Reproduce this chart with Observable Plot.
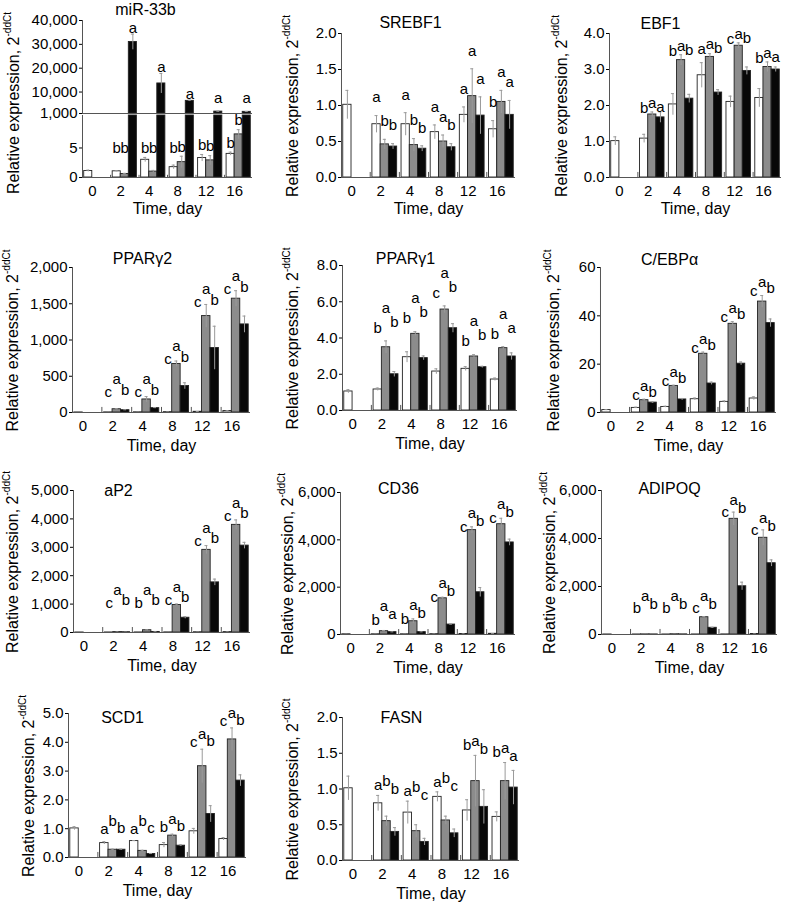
<!DOCTYPE html>
<html><head><meta charset="utf-8">
<script src="https://cdn.jsdelivr.net/npm/d3@7"></script>
<script src="https://cdn.jsdelivr.net/npm/@observablehq/plot@0.6"></script>
<style>
html,body{margin:0;padding:0;background:#fff;}
#page{position:relative;width:787px;height:902px;overflow:hidden;background:#fff;}
#page svg{position:absolute;overflow:visible;}
</style></head><body><div id="page"></div>
<script>
// ---------- data ----------
const days = [0, 2, 4, 8, 12, 16];
const groups = ["w", "g", "b"]; // white, gray, black bars

const mirMean = [[1.1, 1.05, 3.0, 1.75, 3.3, 4.0], [null, 0.6, 1.0, 2.6, 2.9, 7.3], [null, 31000, 13600, 6300, 1800, 1700]];
const mirSe = [[0.15, 0.1, 0.4, 0.35, 0.6, 0.3], [null, 0.1, 0.2, 1.0, 0.8, 0.8], [null, 3300, 4200, 300, 150, 150]];
const mirLetters = [["", "b", "b", "b", "b", "b"], ["", "b", "b", "b", "b", "b"], ["", "a", "a", "a", "a", "a"]];

const srebf1Mean = [[1.01, 0.74, 0.74, 0.63, 0.87, 0.67], [null, 0.46, 0.45, 0.50, 1.13, 1.05], [null, 0.43, 0.40, 0.42, 0.86, 0.87]];
const srebf1Se = [[0.2, 0.12, 0.16, 0.1, 0.11, 0.12], [null, 0.07, 0.09, 0.09, 0.38, 0.16], [null, 0.04, 0.04, 0.05, 0.26, 0.2]];
const srebf1Letters = [["", "a", "a", "a", "a", "b"], ["", "b", "b", "a", "a", "a"], ["", "b", "b", "b", "a", "a"]];

const ebf1Mean = [[1.01, 1.08, 2.03, 2.84, 2.10, 2.21], [null, 1.75, 3.26, 3.35, 3.66, 3.07], [null, 1.67, 2.19, 2.36, 2.96, 3.0]];
const ebf1Se = [[0.12, 0.12, 0.3, 0.35, 0.16, 0.26], [null, 0.07, 0.15, 0.09, 0.08, 0.14], [null, 0.15, 0.12, 0.08, 0.11, 0.07]];
const ebf1Letters = [["", "b", "b", "a", "c", "b"], ["", "a", "a", "a", "a", "a"], ["", "a", "b", "b", "b", "a"]];

const pparg2Mean = [[1, 2, 3, 5, 10, 20], [null, 45, 180, 670, 1330, 1570], [null, 32, 60, 365, 890, 1215]];
const pparg2Se = [[0.5, 1, 1, 2, 3, 5], [null, 8, 40, 40, 160, 110], [null, 5, 8, 45, 300, 115]];
const pparg2Letters = [["", "c", "c", "c", "c", "c"], ["", "a", "a", "a", "a", "a"], ["", "b", "b", "b", "b", "b"]];

const pparg1Mean = [[1.05, 1.16, 2.94, 2.15, 2.3, 1.71], [null, 3.49, 4.23, 5.57, 2.98, 3.44], [null, 2.0, 2.89, 4.54, 2.39, 2.98]];
const pparg1Se = [[0.1, 0.08, 0.3, 0.15, 0.12, 0.08], [null, 0.35, 0.12, 0.2, 0.1, 0.08], [null, 0.15, 0.12, 0.25, 0.05, 0.2]];
const pparg1Letters = [["", "b", "b", "c", "b", "b"], ["", "a", "a", "a", "a", "a"], ["", "b", "b", "b", "b", "a"]];

const cebpaMean = [[1.0, 1.9, 2.3, 5.5, 4.4, 5.8], [null, 5.1, 11.0, 24.3, 36.7, 45.9], [null, 4.1, 5.4, 12.0, 20.2, 37.0]];
const cebpaSe = [[0.2, 0.3, 0.3, 0.5, 0.4, 0.7], [null, 0.4, 0.3, 0.7, 0.9, 2.5], [null, 0.3, 0.4, 0.6, 0.7, 1.7]];
const cebpaLetters = [["", "c", "c", "c", "c", "c"], ["", "a", "a", "a", "a", "a"], ["", "b", "b", "b", "b", "b"]];

const ap2Mean = [[1, 2, 3, 5, 10, 15], [null, 15, 80, 970, 2910, 3790], [null, 10, 20, 520, 1765, 3060]];
const ap2Se = [[0.5, 1, 1, 2, 3, 4], [null, 3, 15, 35, 150, 175], [null, 2, 5, 40, 115, 115]];
const ap2Letters = [["", "c", "b", "c", "c", "c"], ["", "a", "a", "a", "a", "a"], ["", "b", "b", "b", "b", "b"]];

const cd36Mean = [[10, 10, 10, 15, 20, 30], [null, 140, 560, 1530, 4410, 4660], [null, 100, 100, 420, 1785, 3890]];
const cd36Se = [[2, 2, 2, 3, 4, 5], [null, 30, 100, 45, 140, 250], [null, 10, 10, 20, 200, 140]];
const cd36Letters = [["", "b", "b", "c", "c", "c"], ["", "a", "a", "a", "a", "a"], ["", "a", "b", "b", "b", "b"]];

const adipoqMean = [[2, 2, 2, 3, 5, 20], [null, 5, 10, 720, 4820, 4030], [null, 3, 5, 280, 2010, 2970]];
const adipoqSe = [[1, 1, 1, 1, 2, 4], [null, 1, 2, 30, 280, 330], [null, 1, 1, 20, 170, 140]];
const adipoqLetters = [["", "b", "b", "c", "c", "c"], ["", "a", "a", "a", "a", "a"], ["", "b", "b", "b", "b", "b"]];

const scd1Mean = [[1.01, 0.5, 0.57, 0.43, 0.91, 0.64], [null, 0.27, 0.23, 0.76, 3.17, 4.10], [null, 0.27, 0.12, 0.41, 1.51, 2.67]];
const scd1Se = [[0.06, 0.05, 0.02, 0.09, 0.1, 0.05], [null, 0.02, 0.02, 0.05, 0.59, 0.4], [null, 0.02, 0.02, 0.03, 0.29, 0.2]];
const scd1Letters = [["", "a", "a", "b", "c", "c"], ["", "b", "b", "a", "a", "a"], ["", "b", "c", "b", "b", "b"]];

const fasnMean = [[1.01, 0.80, 0.67, 0.89, 0.70, 0.61], [null, 0.55, 0.41, 0.56, 1.11, 1.11], [null, 0.40, 0.26, 0.38, 0.75, 1.02]];
const fasnSe = [[0.17, 0.11, 0.16, 0.07, 0.15, 0.07], [null, 0.07, 0.09, 0.06, 0.36, 0.26], [null, 0.06, 0.05, 0.06, 0.24, 0.24]];
const fasnLetters = [["", "a", "a", "a", "b", "b"], ["", "b", "b", "b", "a", "a"], ["", "b", "c", "c", "b", "a"]];

// ---------- styling / layout ----------
const FILL = {w: "#ffffff", g: "#8c8c8c", b: "#080808"};
const FONT = '"Liberation Sans", Arial, Helvetica, sans-serif';
const colLeft = [0, 262, 524], colW = [262, 262, 263];
const page = document.getElementById("page");

function buildRows(mean, se, letters) {
  const rows = [];
  groups.forEach((g, j) => days.forEach((d, i) => {
    const v = mean[j][i];
    if (v == null) return;
    rows.push({day: d, g, v, se: se[j][i] || 0, lt: letters[j][i] || ""});
  }));
  return rows;
}

function drawPanel(rows, L, o) {
  const mL = L.axisX - L.svgLeft, mR = L.svgLeft + L.svgW - L.right;
  const mT = L.top - L.svgTop, mB = L.svgTop + L.svgH - L.zero;
  const FW = L.right - L.axisX;
  const pi = 0.15, po = 0.06;
  const step = FW / (days.length - pi + 2 * po);
  const bw = step * (1 - pi), t = bw / 3;
  const off = {w: -t, g: 0, b: t};
  const inL = {w: 0, g: t, b: 2 * t}, inR = {w: 2 * t, g: t, b: 0};
  const capIn = t / 2 - 1.5;
  const [y0, y1] = o.domain;
  // letter heights derived from the values
  const top = d3.rollup(rows.filter(r => (o.letterGroups || groups).includes(r.g)), r => d3.max(r, d => d.v + d.se), d => d.day);
  for (const r of rows) r.ly = Math.max(o.mode === "own" ? r.v + r.se : (top.get(r.day) ?? 0), o.floor);

  const marks = [];
  groups.forEach((g) => {
    const sub = rows.filter(r => r.g === g && (o.barGroups || groups).includes(g));
    if (!sub.length) return;
    marks.push(Plot.barY(sub, {x: "day", y: "v", insetLeft: inL[g], insetRight: inR[g], fill: FILL[g], stroke: "#222", strokeWidth: 0.9}));
    if (!(o.noErr || []).includes(g)) {
      const es = sub.filter(r => r.se > 0);
      marks.push(Plot.ruleX(es, {x: "day", y1: r => r.v - r.se, y2: r => r.v + r.se, dx: off[g], stroke: "#9a9a9a", strokeWidth: 1}));
      marks.push(Plot.tickY(es, {x: "day", y: r => r.v + r.se, insetLeft: inL[g] + capIn, insetRight: inR[g] + capIn, stroke: "#9a9a9a"}));
    }
  });
  groups.forEach((g, j) => {
    if (!(o.letterGroups || groups).includes(g)) return;
    const sub = rows.filter(r => r.g === g && r.lt);
    marks.push(Plot.text(sub, {x: "day", y: "ly", text: "lt", dx: off[g], dy: o.dy[j], fontSize: 15, fill: "#000"}));
  });
  // axis lines and group separators
  marks.push(Plot.ruleY([y0], {stroke: "#555"}));
  marks.push(Plot.ruleX([days[0]], {x: d => d, dx: -(bw / 2 + po * step), y1: y0, y2: y1, stroke: "#555"}));
  if (o.xAxis !== false) {
    marks.push(Plot.ruleX(days.slice(1), {x: d => d, dx: -(bw / 2 + pi * step / 2), y1: y0, y2: y0 + (y1 - y0) * 0.035, stroke: "#555"}));
    marks.push(Plot.axisX({tickSize: 0, tickPadding: 8, label: null, dx: -4, fontSize: 15}));
    marks.push(Plot.text(["Time, day"], {text: d => d, frameAnchor: "bottom", lineAnchor: "middle", dy: o.timeDy ?? 33, fontSize: 16}));
  }
  if (o.title) {
    marks.push(Plot.text([o.title], {text: d => d, frameAnchor: "top", lineAnchor: "middle", dx: o.titleXY[0] - (L.axisX + L.right) / 2, dy: o.titleXY[1] - L.top, fontSize: 16}));
  }
  const svg = Plot.plot({
    width: L.svgW, height: L.svgH,
    marginLeft: mL, marginRight: mR, marginTop: mT, marginBottom: mB,
    style: {fontFamily: FONT, fontSize: "15px", color: "#000", background: "transparent", overflow: "visible"},
    x: {type: "band", domain: days, paddingInner: pi, paddingOuter: po, round: false, axis: o.xAxis === false ? null : undefined},
    y: {domain: o.domain, clamp: true, ticks: o.ticks, tickFormat: d3.format(o.fmt), tickSize: 3, tickPadding: 2, label: null},
    marks
  });
  svg.style.position = "absolute";
  svg.style.left = L.svgLeft + "px";
  svg.style.top = L.svgTop + "px";
  if (o.ylab) {
    const tx = d3.select(svg).append("text")
      .attr("transform", `translate(${o.ylab[0] - L.svgLeft},${o.ylab[1] - L.svgTop}) rotate(-90)`)
      .attr("text-anchor", "middle").attr("dy", "0.35em")
      .attr("font-size", 16).attr("font-family", FONT).attr("fill", "#000");
    tx.append("tspan").text("Relative expression, 2");
    tx.append("tspan").attr("font-size", 10).attr("dy", "-0.75em").text("-ddCt");
  }
  page.appendChild(svg);
}

// ---------- standard panels ----------
const panels = [
  {title: "SREBF1", data: [srebf1Mean, srebf1Se, srebf1Letters], col: 1, axisX: 341, right: 515, top: 33, zero: 177, domain: [0, 2], ticks: [0, 0.5, 1, 1.5, 2], fmt: ".1f", mode: "own", floor: 0, dy: [-18, -18, -18], titleXY: [410, 22], ylab: 49, timeDy: 31},
  {title: "EBF1", data: [ebf1Mean, ebf1Se, ebf1Letters], col: 2, axisX: 609, right: 781, top: 33, zero: 177, domain: [0, 4], ticks: [0, 1, 2, 3, 4], fmt: ".1f", mode: "group", floor: 0, dy: [-4, -9, -5], titleXY: [660, 23], ylab: 48, timeDy: 31},
  {title: "PPARγ2", data: [pparg2Mean, pparg2Se, pparg2Letters], col: 0, axisX: 72, right: 250, top: 267, zero: 412, domain: [0, 2000], ticks: [0, 500, 1000, 1500, 2000], fmt: ",", mode: "group", floor: 250, dy: [-2, -15, -4], titleXY: [142, 258], ylab: 60},
  {title: "PPARγ1", data: [pparg1Mean, pparg1Se, pparg1Letters], col: 1, axisX: 342, right: 517, top: 265, zero: 410, domain: [0, 8], ticks: [0, 2, 4, 6, 8], fmt: ".1f", mode: "group", floor: 0, dy: [-13, -33, -19], titleXY: [405, 258], ylab: 50},
  {title: "C/EBPα", data: [cebpaMean, cebpaSe, cebpaLetters], col: 2, axisX: 600, right: 776, top: 267, zero: 412, domain: [0, 60], ticks: [0, 20, 40, 60], fmt: "d", mode: "group", floor: 5, dy: [-4, -13, -7], titleXY: [669, 259], ylab: 47},
  {title: "aP2", data: [ap2Mean, ap2Se, ap2Letters], col: 0, axisX: 73, right: 250, top: 490, zero: 632, domain: [0, 5000], ticks: [0, 1000, 2000, 3000, 4000, 5000], fmt: ",", mode: "group", floor: 900, dy: [-4, -17, -7], titleXY: [118, 490], ylab: 61},
  {title: "CD36", data: [cd36Mean, cd36Se, cd36Letters], col: 1, axisX: 340, right: 515, top: 492, zero: 634, domain: [0, 6000], ticks: [0, 2000, 4000, 6000], fmt: ",", mode: "group", floor: 600, dy: [0, -14, -6], titleXY: [398, 488], ylab: 53},
  {title: "ADIPOQ", data: [adipoqMean, adipoqSe, adipoqLetters], col: 2, axisX: 601, right: 777, top: 490, zero: 634, domain: [0, 6000], ticks: [0, 2000, 4000, 6000], fmt: ",", mode: "group", floor: 1100, dy: [0, -12, -4], titleXY: [669, 488], ylab: 52},
  {title: "SCD1", data: [scd1Mean, scd1Se, scd1Letters], col: 0, axisX: 68, right: 246, top: 713, zero: 857, domain: [0, 5], ticks: [0, 1, 2, 3, 4, 5], fmt: ".1f", mode: "group", floor: 0.75, dy: [-7, -15, -8], titleXY: [122, 717], ylab: 40},
  {title: "FASN", data: [fasnMean, fasnSe, fasnLetters], col: 1, axisX: 342, right: 519, top: 717, zero: 860, domain: [0, 2], ticks: [0, 0.5, 1, 1.5, 2], fmt: ".1f", mode: "group", floor: 0, dy: [-10, -14, -6], titleXY: [401, 717], ylab: 50}
];

for (const p of panels) {
  const svgTop = Math.max(0, Math.min(p.titleXY[1] - 14, p.top - 12));
  const L = {svgLeft: colLeft[p.col], svgW: colW[p.col], svgTop, svgH: p.zero + 46 - svgTop, axisX: p.axisX, right: p.right, top: p.top, zero: p.zero};
  drawPanel(buildRows(...p.data), L, {...p, ylab: [p.axisX - p.ylab, (p.top + p.zero) / 2 + 1]});
}

// ---------- miR-33b: broken y axis ----------
const mirRows = buildRows(mirMean, mirSe, mirLetters);
drawPanel(mirRows.filter(r => r.g === "b").map(r => ({...r})),
  {svgLeft: 0, svgW: 262, svgTop: 0, svgH: 114, axisX: 82, right: 252, top: 20, zero: 113},
  {title: "miR-33b", titleXY: [145, 9], domain: [1000, 40000], ticks: [1000, 10000, 20000, 30000, 40000], fmt: ",",
   mode: "own", floor: 5000, dy: [-6, -6, -6], xAxis: false, letterGroups: ["b"]});
drawPanel(mirRows.map(r => ({...r})),
  {svgLeft: 0, svgW: 262, svgTop: 114, svgH: 109, axisX: 82, right: 252, top: 115, zero: 177},
  {domain: [0, 10.5], ticks: [0, 5], fmt: "d", mode: "own", floor: 3.5, dy: [-9, -9, -9], timeDy: 31,
   noErr: ["b"], letterGroups: ["w", "g"], ylab: [13, 103]});
</script>
</body></html>
